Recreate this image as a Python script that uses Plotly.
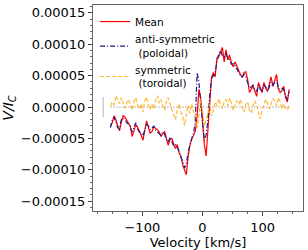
import plotly.graph_objects as go

velocity = list(range(-153, 145, 3))

mean_u = [-3.1, -2.5, -1.4, -2.0, -3.0, -3.8, -2.5, -1.4, -1.6, -2.2,
          -2.6, -3.1, -4.7, -3.8, -2.8, -3.2, -3.8, -4.5, -5.3, -3.5,
          -2.2, -3.2, -4.2, -3.9, -3.2, -3.4, -3.6, -4.0, -4.7, -4.3,
          -3.9, -5.0, -6.1, -5.2, -5.0, -5.9, -6.6, -6.0, -7.3, -7.8,
          -9.2, -10.0, -10.8, -8.0, -6.1, -5.2, -4.6, -3.9, -1.5, 2.8,
          1.5, -2.0, -6.0, -7.8, -3.5, 1.0, 4.7, 5.5, 4.8, 7.8,
          8.0, 8.75, 9.5, 7.2, 9.1, 7.5, 8.3, 7.0, 6.4, 7.2,
          6.5, 5.6, 5.2, 4.7, 5.5, 5.6, 4.4, 2.3, 2.8, 3.3,
          2.5, 1.7, 3.9, 3.0, 2.3, 3.9, 3.0, 2.5, 3.5, 4.8,
          3.3, 4.2, 5.2, 2.8, 2.3, 2.6, 3.3, 1.5, 0.8, 2.8]

anti_u = [-3.3, -2.0, -1.6, -2.5, -3.3, -3.5, -2.0, -1.8, -2.0, -2.5,
          -2.8, -3.0, -4.0, -3.3, -2.5, -3.5, -4.0, -4.2, -4.6, -3.7,
          -2.8, -3.0, -3.6, -3.4, -3.0, -3.7, -4.0, -4.3, -4.5, -4.0,
          -4.3, -5.2, -5.6, -4.8, -5.5, -6.2, -6.0, -6.5, -7.0, -8.0,
          -8.6, -9.7, -9.2, -7.2, -5.8, -5.0, -4.2, -2.5, 5.5, 4.0,
          0.5, -2.5, -5.3, -4.5, -2.0, 2.0, 4.5, 5.0, 5.5, 7.2,
          8.5, 9.0, 8.2, 8.0, 8.5, 7.8, 7.6, 6.8, 6.9, 6.6,
          6.0, 5.5, 5.0, 4.8, 5.2, 4.8, 4.0, 3.0, 3.2, 3.5,
          2.8, 2.5, 3.5, 2.8, 2.6, 3.5, 3.2, 2.5, 3.2, 4.0,
          3.5, 4.0, 4.3, 3.0, 2.8, 3.0, 2.8, 1.8, 1.2, 2.5]

sym_u = [0.2, 0.8, 0.3, 1.8, 1.2, 0.5, 1.5, 0.8, -0.2, 0.6,
         1.2, 0.3, -0.5, 0.8, 1.5, 0.4, -0.3, 0.5, -0.8, 1.0,
         1.6, 0.3, -0.4, 0.5, -0.3, 1.0, 1.8, 0.6, 1.2, 0.2,
         -0.5, 0.8, 1.5, 0.5, -0.3, -1.2, -2.0, -0.5, 0.5, -0.8,
         -1.5, -3.0, -1.0, 0.3, -1.0, 0.5, -0.8, -2.0, -3.4, -1.5,
         1.2, -0.5, -3.1, -2.0, -1.0, 0.5, -1.4, -0.5, 0.8, 0.2,
         1.3, 0.5, -0.3, 0.8, 1.2, 0.2, 1.4, 0.6, -0.5, 0.3,
         1.0, 0.4, 1.2, 0.0, -0.8, 0.5, 0.8, -0.5, -1.0, 0.2,
         1.0, 0.3, -0.8, -1.9, -0.5, 0.5, 1.2, 0.6, -0.3, 0.5,
         1.3, 1.0, 0.2, 1.5, 0.8, -0.3, 0.5, -0.2, -0.5, 0.2]

scale = 1e-5
mean_v = [m * scale for m in mean_u]
anti_v = [a * scale for a in anti_u]
sym_v = [s * scale for s in sym_u]

errbar_x = [-165]
errbar_y = [0.0]
errbar_err = [1.6e-5]

zero_x = [velocity[0], velocity[-1]]
zero_y = [0.0, 0.0]

fig = go.Figure()

fig.add_trace(go.Scatter(x=zero_x, y=zero_y, mode="lines",
                         line=dict(color="#777777", width=1, dash="1px,2px"),
                         showlegend=False, hoverinfo="skip"))
fig.add_trace(go.Scatter(x=errbar_x, y=errbar_y, mode="markers",
                         marker=dict(size=1, color="rgba(0,0,0,0)"),
                         error_y=dict(type="data", array=errbar_err, color="#cccccc",
                                      thickness=1.5, width=0),
                         showlegend=False, hoverinfo="skip"))
fig.add_trace(go.Scatter(x=velocity, y=mean_v, mode="lines", name="Mean",
                         line=dict(color="red", width=1.2)))
fig.add_trace(go.Scatter(x=velocity, y=anti_v, mode="lines",
                         name="anti-symmetric<br>&nbsp;(poloidal)",
                         line=dict(color="#1c1c8a", width=1.2, dash="5px,2px,1px,2px")))
fig.add_trace(go.Scatter(x=velocity, y=sym_v, mode="lines",
                         name="symmetric<br>&nbsp;(toroidal)",
                         line=dict(color="rgba(255,170,20,0.85)", width=1.2, dash="4px,2px")))

axis_common = dict(showline=True, linecolor="#666666", linewidth=1, mirror=True,
                   ticks="outside", ticklen=4, tickcolor="#444444", showgrid=False,
                   zeroline=False, tickfont=dict(size=13, color="black"))

fig.update_xaxes(range=[-182, 167], tickvals=[-100, 0, 100],
                 minor=dict(ticks="outside", ticklen=2, dtick=25, tick0=0, tickcolor="#666666"),
                 title=dict(text="Velocity [km/s]", font=dict(size=13, color="black"), standoff=2),
                 **axis_common)
fig.update_yaxes(range=[-1.658e-4, 1.626e-4], dtick=5e-5, tickformat=".5f",
                 minor=dict(ticks="outside", ticklen=2, dtick=1e-5, tickcolor="#666666"),
                 title=dict(text="<i>V/I</i><sub><i>C</i></sub>", font=dict(size=14, color="black"),
                            standoff=4),
                 **axis_common)

fig.update_layout(
    width=308, height=250,
    margin=dict(l=93, r=4, t=5, b=37),
    paper_bgcolor="white", plot_bgcolor="white",
    font=dict(family="DejaVu Sans", color="black"),
    legend=dict(x=0.01, y=0.99, xanchor="left", yanchor="top",
                bgcolor="rgba(0,0,0,0)", font=dict(size=10.5),
                tracegroupgap=0, itemwidth=30),
)

fig.write_html("out.html", config={"displayModeBar": False},
               post_script="document.body.style.margin='0';document.body.style.padding='0';")
